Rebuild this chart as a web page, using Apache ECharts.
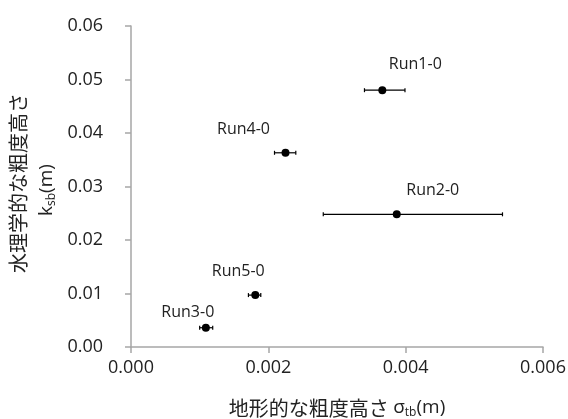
<!DOCTYPE html>
<html>
<head>
<meta charset="utf-8">
<script src="https://cdn.jsdelivr.net/npm/echarts@6/dist/echarts.min.js"></script>
<style>html,body{margin:0;padding:0;background:#fff;}#c{width:568px;height:419px;}</style>
</head>
<body>
<div id="c"></div>
<script>
const runNames = ['Run1-0', 'Run2-0', 'Run3-0', 'Run4-0', 'Run5-0'];
const sigmaTb = [0.00366, 0.00387, 0.00109, 0.00225, 0.00181];
const ksb = [0.0480, 0.0248, 0.0036, 0.0363, 0.0097];
const errLow = [0.00340, 0.00280, 0.00100, 0.00209, 0.00171];
const errHigh = [0.00399, 0.00541, 0.00119, 0.00240, 0.00189];
const xTicks = ['0.000', '0.002', '0.004', '0.006'];
const yTicks = ['0.00', '0.01', '0.02', '0.03', '0.04', '0.05', '0.06'];

const labelOffsets = {
  'Run1-0': [33, -26], 'Run2-0': [36, -24], 'Run3-0': [-18, -15],
  'Run4-0': [-42, -23], 'Run5-0': [-17, -24]
};
const font = 'Open Sans, Noto Sans CJK JP, sans-serif';
const cjk = 'Noto Sans CJK JP, sans-serif';
const txt = '#222';

const pts = runNames.map((n, i) => ({
  name: n,
  value: [sigmaTb[i], ksb[i]],
  label: {
    show: true, formatter: n, position: 'inside', offset: labelOffsets[n],
    color: txt, fontSize: 16, fontFamily: font, textBorderWidth: 0
  }
}));
const errData = runNames.map((n, i) => [errLow[i], errHigh[i], ksb[i]]);

const chart = echarts.init(document.getElementById('c'), null, { renderer: 'canvas' });
chart.setOption({
  animation: false,
  grid: { left: 131, right: 25, top: 26, bottom: 72, containLabel: false, outerBoundsMode: 'none' },
  graphic: [
    {
      type: 'text', x: 18, y: 183, rotation: Math.PI / 2,
      style: { text: '水理学的な粗度高さ', font: '20px ' + cjk, fill: txt, align: 'center', verticalAlign: 'middle' }
    },
    {
      type: 'text', x: 47, y: 190, rotation: Math.PI / 2,
      style: {
        text: '{b|k}{s|sb}{b|(m)}', align: 'center', verticalAlign: 'middle',
        rich: {
          b: { fontSize: 19, fontFamily: font, fill: txt },
          s: { fontSize: 12, fontFamily: font, fill: txt, padding: [10, 0, 0, 0] }
        }
      }
    }
  ],
  xAxis: {
    type: 'value', min: 0, max: 0.006, interval: 0.002,
    axisLine: { show: true, lineStyle: { color: '#a6a6a6', width: 1.5 } },
    axisTick: { show: true, length: 6, lineStyle: { color: '#a6a6a6', width: 1.5 } },
    splitLine: { show: false },
    axisLabel: { fontSize: 18, color: txt, fontFamily: font, margin: 12,
      formatter: v => xTicks[Math.round(v / 0.002)] },
    name: '{a|地形的な粗度高さ }{b|σ}{s|tb}{b|(m)}',
    nameLocation: 'middle', nameGap: 50,
    nameTextStyle: {
      rich: {
        a: { fontSize: 20, fontFamily: cjk, color: txt },
        b: { fontSize: 19, fontFamily: font, color: txt },
        s: { fontSize: 12, fontFamily: font, color: txt, padding: [10, 0, 0, 0] }
      }
    }
  },
  yAxis: {
    type: 'value', min: 0, max: 0.06, interval: 0.01,
    axisLine: { show: true, lineStyle: { color: '#a6a6a6', width: 1.5 } },
    axisTick: { show: true, length: 6, lineStyle: { color: '#a6a6a6', width: 1.5 } },
    splitLine: { show: false },
    axisLabel: { fontSize: 18, color: txt, fontFamily: font, margin: 28,
      formatter: v => yTicks[Math.round(v / 0.01)] }
  },
  series: [
    {
      type: 'custom',
      data: errData,
      z: 2,
      renderItem: (params, api) => {
        const a = api.coord([api.value(0), api.value(2)]);
        const b = api.coord([api.value(1), api.value(2)]);
        const style = { stroke: '#000', lineWidth: 1.2 };
        return {
          type: 'group',
          children: [
            { type: 'line', shape: { x1: a[0], y1: a[1], x2: b[0], y2: b[1] }, style },
            { type: 'line', shape: { x1: a[0], y1: a[1] - 2, x2: a[0], y2: a[1] + 2 }, style },
            { type: 'line', shape: { x1: b[0], y1: b[1] - 2, x2: b[0], y2: b[1] + 2 }, style }
          ]
        };
      }
    },
    {
      type: 'scatter',
      data: pts,
      symbol: 'circle', symbolSize: 8, z: 3,
      itemStyle: { color: '#000', opacity: 1 }
    }
  ]
});
</script>
</body>
</html>
